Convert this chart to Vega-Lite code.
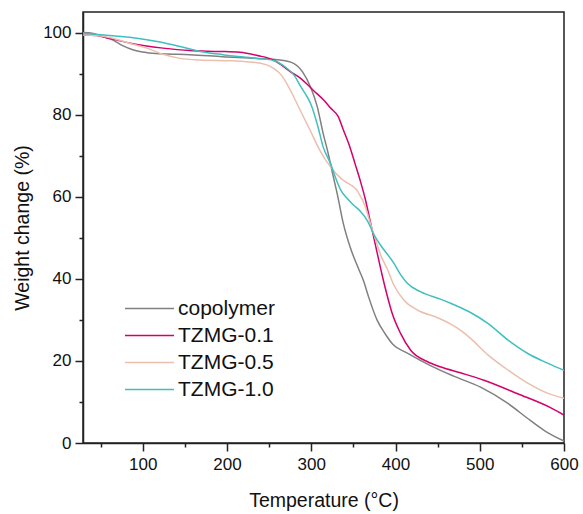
{
  "$schema": "https://vega.github.io/schema/vega-lite/v6.json",
  "width": 481,
  "height": 431,
  "autosize": {"type": "none"},
  "padding": {"left": 83, "top": 12, "right": 19, "bottom": 71},
  "background": "white",
  "config": {
    "font": "Liberation Sans",
    "view": {"stroke": "#222222", "strokeWidth": 1.5},
    "axis": {"domainColor": "#222222", "domainWidth": 1.5, "tickColor": "#222222", "tickWidth": 1.5, "grid": false, "labelColor": "#111111", "titleColor": "#111111", "labelFontSize": 17, "titleFontSize": 19.5, "titleFontWeight": "normal", "labelFont": "Liberation Sans", "titleFont": "Liberation Sans"}
  },
  "data": {"values": [
    {"s":"copolymer","T":29,"W":100},{"s":"copolymer","T":40,"W":99.8},{"s":"copolymer","T":52,"W":99},{"s":"copolymer","T":64,"W":98.2},{"s":"copolymer","T":76,"W":96.8},{"s":"copolymer","T":88,"W":95.8},{"s":"copolymer","T":105,"W":95.1},{"s":"copolymer","T":124,"W":94.8},{"s":"copolymer","T":156,"W":94.6},{"s":"copolymer","T":195,"W":94.1},{"s":"copolymer","T":236,"W":93.7},{"s":"copolymer","T":263,"W":93.3},{"s":"copolymer","T":279,"W":92.5},{"s":"copolymer","T":290,"W":90.3},{"s":"copolymer","T":299,"W":86.8},{"s":"copolymer","T":307,"W":82},{"s":"copolymer","T":314,"W":75.5},{"s":"copolymer","T":320,"W":70.6},{"s":"copolymer","T":326,"W":65},{"s":"copolymer","T":331,"W":60.5},{"s":"copolymer","T":338,"W":53.5},{"s":"copolymer","T":346,"W":47.8},{"s":"copolymer","T":356,"W":42.5},{"s":"copolymer","T":362,"W":39.5},{"s":"copolymer","T":368,"W":35.6},{"s":"copolymer","T":378,"W":30},{"s":"copolymer","T":388,"W":26.5},{"s":"copolymer","T":397,"W":24},{"s":"copolymer","T":414,"W":21.9},{"s":"copolymer","T":442,"W":18.8},{"s":"copolymer","T":469,"W":16.3},{"s":"copolymer","T":501,"W":13.6},{"s":"copolymer","T":533,"W":9.7},{"s":"copolymer","T":560,"W":5.5},{"s":"copolymer","T":580,"W":2.6},{"s":"copolymer","T":600,"W":0.5},
    {"s":"TZMG-0.1","T":29,"W":99.4},{"s":"TZMG-0.1","T":45,"W":99.3},{"s":"TZMG-0.1","T":60,"W":98.6},{"s":"TZMG-0.1","T":85,"W":97.4},{"s":"TZMG-0.1","T":124,"W":96.2},{"s":"TZMG-0.1","T":156,"W":95.6},{"s":"TZMG-0.1","T":190,"W":95.4},{"s":"TZMG-0.1","T":215,"W":95.2},{"s":"TZMG-0.1","T":236,"W":94.4},{"s":"TZMG-0.1","T":255,"W":93.3},{"s":"TZMG-0.1","T":265,"W":92},{"s":"TZMG-0.1","T":275,"W":90.5},{"s":"TZMG-0.1","T":287,"W":88.9},{"s":"TZMG-0.1","T":296,"W":87.2},{"s":"TZMG-0.1","T":302,"W":86},{"s":"TZMG-0.1","T":315,"W":83.5},{"s":"TZMG-0.1","T":323,"W":81.6},{"s":"TZMG-0.1","T":332,"W":79.5},{"s":"TZMG-0.1","T":338,"W":76.3},{"s":"TZMG-0.1","T":346,"W":72},{"s":"TZMG-0.1","T":352,"W":68},{"s":"TZMG-0.1","T":358,"W":64},{"s":"TZMG-0.1","T":364,"W":59.5},{"s":"TZMG-0.1","T":370,"W":54},{"s":"TZMG-0.1","T":378,"W":46.5},{"s":"TZMG-0.1","T":384,"W":41},{"s":"TZMG-0.1","T":390,"W":36},{"s":"TZMG-0.1","T":396,"W":31.6},{"s":"TZMG-0.1","T":406,"W":26.7},{"s":"TZMG-0.1","T":418,"W":22.6},{"s":"TZMG-0.1","T":438,"W":19.8},{"s":"TZMG-0.1","T":454,"W":18.5},{"s":"TZMG-0.1","T":477,"W":17.1},{"s":"TZMG-0.1","T":505,"W":15.3},{"s":"TZMG-0.1","T":545,"W":12},{"s":"TZMG-0.1","T":585,"W":8.5},{"s":"TZMG-0.1","T":600,"W":6.8},
    {"s":"TZMG-0.5","T":29,"W":99.4},{"s":"TZMG-0.5","T":45,"W":99.3},{"s":"TZMG-0.5","T":64,"W":98.6},{"s":"TZMG-0.5","T":84,"W":97.4},{"s":"TZMG-0.5","T":105,"W":96.2},{"s":"TZMG-0.5","T":124,"W":94.7},{"s":"TZMG-0.5","T":144,"W":93.7},{"s":"TZMG-0.5","T":168,"W":93.3},{"s":"TZMG-0.5","T":207,"W":93.1},{"s":"TZMG-0.5","T":240,"W":92.5},{"s":"TZMG-0.5","T":255,"W":91.3},{"s":"TZMG-0.5","T":265,"W":89.5},{"s":"TZMG-0.5","T":275,"W":86},{"s":"TZMG-0.5","T":287,"W":81},{"s":"TZMG-0.5","T":299,"W":76},{"s":"TZMG-0.5","T":311,"W":71},{"s":"TZMG-0.5","T":322,"W":67.5},{"s":"TZMG-0.5","T":330,"W":65.5},{"s":"TZMG-0.5","T":338,"W":64},{"s":"TZMG-0.5","T":355,"W":61.3},{"s":"TZMG-0.5","T":364,"W":57.6},{"s":"TZMG-0.5","T":370,"W":53.6},{"s":"TZMG-0.5","T":378,"W":48.5},{"s":"TZMG-0.5","T":382,"W":46},{"s":"TZMG-0.5","T":390,"W":42.5},{"s":"TZMG-0.5","T":398,"W":38.5},{"s":"TZMG-0.5","T":410,"W":34.8},{"s":"TZMG-0.5","T":426,"W":32.4},{"s":"TZMG-0.5","T":450,"W":30.5},{"s":"TZMG-0.5","T":465,"W":29},{"s":"TZMG-0.5","T":477,"W":27.5},{"s":"TZMG-0.5","T":489,"W":25.5},{"s":"TZMG-0.5","T":510,"W":21.4},{"s":"TZMG-0.5","T":534,"W":17.7},{"s":"TZMG-0.5","T":557,"W":14.6},{"s":"TZMG-0.5","T":581,"W":12.1},{"s":"TZMG-0.5","T":600,"W":10.9},
    {"s":"TZMG-1.0","T":29,"W":99.8},{"s":"TZMG-1.0","T":64,"W":99.2},{"s":"TZMG-1.0","T":93,"W":98.6},{"s":"TZMG-1.0","T":117,"W":97.8},{"s":"TZMG-1.0","T":144,"W":96.6},{"s":"TZMG-1.0","T":168,"W":95.4},{"s":"TZMG-1.0","T":195,"W":94.6},{"s":"TZMG-1.0","T":236,"W":93.7},{"s":"TZMG-1.0","T":255,"W":93.2},{"s":"TZMG-1.0","T":271,"W":91.3},{"s":"TZMG-1.0","T":280,"W":89.5},{"s":"TZMG-1.0","T":287,"W":87},{"s":"TZMG-1.0","T":296,"W":84},{"s":"TZMG-1.0","T":300,"W":82.3},{"s":"TZMG-1.0","T":308,"W":77},{"s":"TZMG-1.0","T":314,"W":72.2},{"s":"TZMG-1.0","T":323,"W":68},{"s":"TZMG-1.0","T":329,"W":64.5},{"s":"TZMG-1.0","T":335,"W":61.6},{"s":"TZMG-1.0","T":343,"W":59.5},{"s":"TZMG-1.0","T":350,"W":58},{"s":"TZMG-1.0","T":358,"W":56.5},{"s":"TZMG-1.0","T":367,"W":54},{"s":"TZMG-1.0","T":375,"W":50.5},{"s":"TZMG-1.0","T":383,"W":48},{"s":"TZMG-1.0","T":398,"W":43.8},{"s":"TZMG-1.0","T":406,"W":41},{"s":"TZMG-1.0","T":414,"W":38.9},{"s":"TZMG-1.0","T":430,"W":36.8},{"s":"TZMG-1.0","T":454,"W":35},{"s":"TZMG-1.0","T":466,"W":34},{"s":"TZMG-1.0","T":477,"W":33},{"s":"TZMG-1.0","T":489,"W":31.8},{"s":"TZMG-1.0","T":510,"W":29.1},{"s":"TZMG-1.0","T":534,"W":25},{"s":"TZMG-1.0","T":557,"W":21.8},{"s":"TZMG-1.0","T":581,"W":19.4},{"s":"TZMG-1.0","T":600,"W":17.7}
  ]},
  "mark": {"type": "line", "strokeWidth": 1.5, "interpolate": "monotone", "clip": true},
  "encoding": {
    "x": {"field": "T", "type": "quantitative", "scale": {"domain": [29, 600], "nice": false, "zero": false},
      "axis": {"title": "Temperature (°C)", "values": [50,100,150,200,250,300,350,400,450,500,550,600],
        "labelExpr": "datum.value % 100 == 0 ? datum.label : ''",
        "tickSize": {"condition": {"test": "datum.value % 100 == 0", "value": 8}, "value": 4},
        "labelPadding": 5, "titlePadding": 19, "labelFlush": false}},
    "y": {"field": "W", "type": "quantitative", "scale": {"domain": [0, 105], "nice": false},
      "axis": {"title": "Weight change (%)", "values": [0,10,20,30,40,50,60,70,80,90,100],
        "labelExpr": "datum.value % 20 == 0 ? datum.label : ''",
        "tickSize": {"condition": {"test": "datum.value % 20 == 0", "value": 8}, "value": 4},
        "labelPadding": 4, "titlePadding": 10, "labelFlush": false}},
    "color": {"field": "s", "type": "nominal",
      "scale": {"domain": ["copolymer", "TZMG-0.1", "TZMG-0.5", "TZMG-1.0"], "range": ["#808080", "#d4006c", "#ebbfae", "#40bfbf"]},
      "legend": {"title": null, "orient": "none", "legendX": 56, "legendY": 286, "symbolType": "M-5,0H5", "symbolSize": 96, "symbolStrokeWidth": 1.5, "labelFontSize": 21, "labelColor": "#111111", "labelOffset": 18, "rowPadding": 5, "padding": 0, "labelFont": "Liberation Sans"}}
  }
}
